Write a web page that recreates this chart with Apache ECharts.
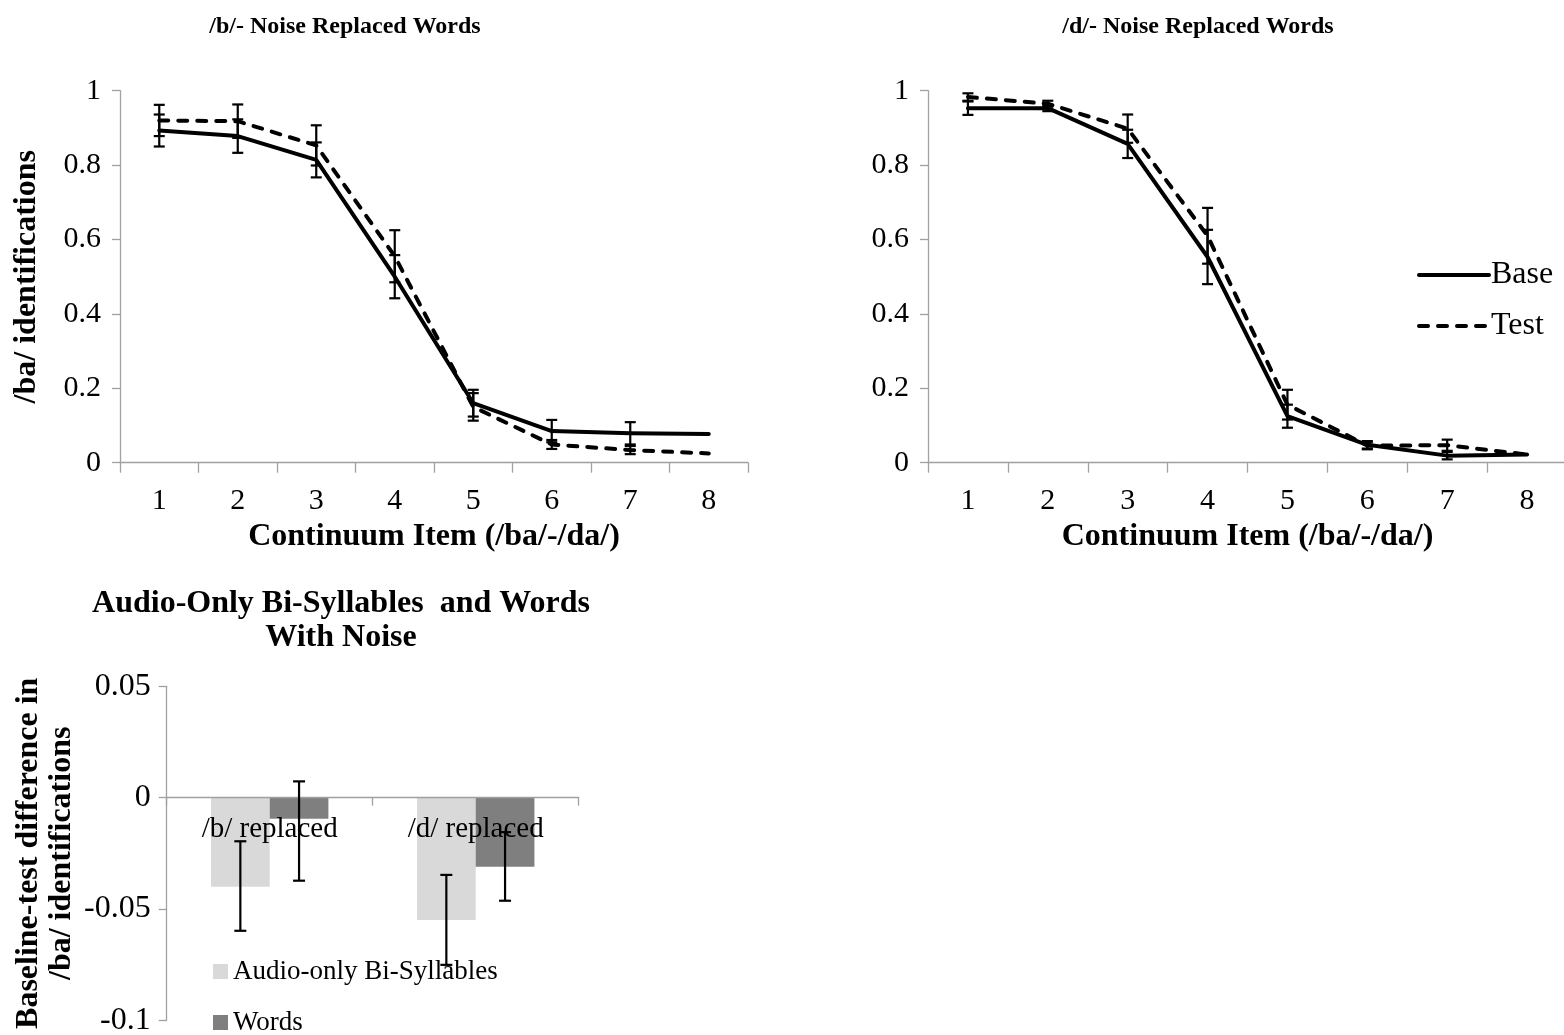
<!DOCTYPE html>
<html>
<head>
<meta charset="utf-8">
<script src="https://cdn.jsdelivr.net/npm/echarts@6/dist/echarts.min.js"></script>
<style>
  html, body { margin: 0; padding: 0; background: #fff; }
  #chart { width: 1564px; height: 1035px; }
</style>
</head>
<body>
<div id="chart"></div>
<script>
// Continuum items (/ba/ to /da/)
const continuumItems = ['1', '2', '3', '4', '5', '6', '7', '8'];

// /b/- noise replaced words: proportion of /ba/ identifications
const bBase    = [0.893, 0.878, 0.814, 0.500, 0.160, 0.085, 0.079, 0.077];
const bTest    = [0.920, 0.918, 0.853, 0.555, 0.150, 0.049, 0.034, 0.025];
const bBaseErr = [0.043, 0.045, 0.047, 0.058, 0.036, 0.030, 0.030, 0];
const bTestErr = [0.042, 0.045, 0.054, 0.070, 0.037, 0.012, 0.011, 0];

// /d/- noise replaced words
const dBase    = [0.953, 0.953, 0.857, 0.553, 0.125, 0.048, 0.019, 0.022];
const dTest    = [0.983, 0.965, 0.898, 0.610, 0.156, 0.046, 0.047, 0.022];
const dBaseErr = [0.018, 0.008, 0.038, 0.073, 0.031, 0.010, 0.010, 0];
const dTestErr = [0.010, 0.008, 0.038, 0.075, 0.040, 0.010, 0.015, 0];

// Baseline-test difference, audio-only bi-syllables vs words
const diffCategories = ['/b/ replaced', '/d/ replaced'];
const syllableDiff   = [-0.040, -0.055];
const wordDiff       = [-0.0095, -0.031];
const syllableLow    = [-0.0598, -0.0751];
const syllableHigh   = [-0.0196, -0.0347];
const wordLow        = [-0.0373, -0.0463];
const wordHigh       = [0.0073, -0.0155];

const FONT = 'Liberation Serif';
const AXIS_GREY = '#a0a0a0';

function numLabel(v) {
  if (Math.abs(v) < 1e-9) return '0';
  return String(parseFloat(v.toFixed(2)));
}

// [index, low, high, slot] rows for the error-bar series
function errRows(vals, errs, slot) {
  return vals.map((v, i) => [i, v - errs[i], v + errs[i], slot]);
}
function boundRows(low, high, slot) {
  return low.map((l, i) => [i, l, high[i], slot]);
}

// Vertical whisker with caps; slot shifts it onto one of two side-by-side bars
function renderErr(capHalf, groupFrac) {
  return function (params, api) {
    const lo = api.value(1), hi = api.value(2);
    if (!(hi - lo > 1e-9)) return null;
    const idx = api.value(0), slot = api.value(3);
    const top = api.coord([idx, hi]);
    const bot = api.coord([idx, lo]);
    let x = top[0];
    if (slot !== 0) {
      const band = api.size([1, 0])[0];
      x += slot * band * groupFrac / 4;
    }
    const style = { stroke: '#000', lineWidth: 2.2, fill: null };
    return {
      type: 'group',
      children: [
        { type: 'line', shape: { x1: x, y1: top[1], x2: x, y2: bot[1] }, style },
        { type: 'line', shape: { x1: x - capHalf, y1: top[1], x2: x + capHalf, y2: top[1] }, style },
        { type: 'line', shape: { x1: x - capHalf, y1: bot[1], x2: x + capHalf, y2: bot[1] }, style }
      ]
    };
  };
}

function lineXAxis(gridIndex) {
  return {
    type: 'category', gridIndex, data: continuumItems, boundaryGap: true,
    name: 'Continuum Item (/ba/-/da/)', nameLocation: 'middle', nameGap: 58,
    nameTextStyle: { fontFamily: FONT, fontSize: 32, fontWeight: 'bold', color: '#000' },
    axisLine: { lineStyle: { color: AXIS_GREY, width: 1.3 } },
    axisTick: { show: true, length: 10, inside: false, alignWithLabel: false, lineStyle: { color: AXIS_GREY, width: 1.3 } },
    axisLabel: { fontFamily: FONT, fontSize: 30, color: '#000', margin: 23 },
    splitLine: { show: false }
  };
}
function lineYAxis(gridIndex, withName) {
  const ax = {
    type: 'value', gridIndex, min: 0, max: 1, interval: 0.2,
    axisLine: { show: true, lineStyle: { color: AXIS_GREY, width: 1.3 } },
    axisTick: { show: true, length: 8, lineStyle: { color: AXIS_GREY, width: 1.3 } },
    axisLabel: { fontFamily: FONT, fontSize: 30, color: '#000', margin: 19, formatter: numLabel },
    splitLine: { show: false }
  };
  if (withName) {
    ax.name = '/ba/ identifications';
    ax.nameLocation = 'middle';
    ax.nameGap = 77;
    ax.nameTextStyle = { fontFamily: FONT, fontSize: 32, fontWeight: 'bold', color: '#000' };
  }
  return ax;
}
function curve(name, data, idx, dashed) {
  return {
    name, type: 'line', xAxisIndex: idx, yAxisIndex: idx, data,
    symbol: 'none', smooth: false, z: 3,
    lineStyle: { color: '#000', width: 4, type: dashed ? [9, 10] : 'solid', cap: 'round', join: 'round' },
    itemStyle: { color: '#000' }
  };
}
function whiskers(rows, idx) {
  return {
    type: 'custom', xAxisIndex: idx, yAxisIndex: idx, data: rows, z: 4,
    renderItem: renderErr(5.5, 0), encode: { x: 0, y: [1, 2] }, silent: true
  };
}
function barLegend(name, top) {
  return {
    data: [name], orient: 'vertical', left: 213, top,
    icon: 'rect', itemWidth: 15, itemHeight: 15, padding: 0,
    textStyle: { fontFamily: FONT, fontSize: 27, color: '#000', lineHeight: 27 }
  };
}

const BAR_GROUP = 0.57; // share of each category band taken by the pair of bars
const DIFF_GRID = { left: 166.7, top: 686.3, width: 412, height: 334 };
// the category axis sits on the zero line: 0 is one third of the way down from 0.05 to -0.1
const ZERO_OFFSET = -DIFF_GRID.height * (0.1 / 0.15);

const option = {
  backgroundColor: '#fff',
  animation: false,
  title: [
    { text: '/b/- Noise Replaced Words', left: 340, top: 10, textAlign: 'center',
      textStyle: { fontFamily: FONT, fontSize: 24, fontWeight: 'bold', color: '#000' } },
    { text: '/d/- Noise Replaced Words', left: 1193, top: 10, textAlign: 'center',
      textStyle: { fontFamily: FONT, fontSize: 24, fontWeight: 'bold', color: '#000' } },
    { text: 'Audio-Only Bi-Syllables  and Words\nWith Noise', left: 336, top: 582, textAlign: 'center',
      textStyle: { fontFamily: FONT, fontSize: 32, fontWeight: 'bold', color: '#000', lineHeight: 34, align: 'center' } }
  ],
  legend: [
    {
      data: ['Base', 'Test'], orient: 'vertical', left: 1417, top: 259,
      itemWidth: 70, itemHeight: 14, itemGap: 19, padding: 0,
      itemStyle: { color: 'rgba(0,0,0,0)', borderWidth: 0 },
      lineStyle: { width: 4, color: '#000' },
      textStyle: { fontFamily: FONT, fontSize: 32, color: '#000', lineHeight: 32, padding: [0, 0, 0, -3] }
    },
    barLegend('Audio-only Bi-Syllables', 958),
    barLegend('Words', 1009)
  ],
  grid: [
    { left: 120, top: 90.7, width: 628, height: 372, containLabel: false, outerBoundsMode: 'none' },
    { left: 928, top: 90.7, width: 639, height: 372, containLabel: false, outerBoundsMode: 'none' },
    Object.assign({ containLabel: false, outerBoundsMode: 'none' }, DIFF_GRID)
  ],
  xAxis: [
    lineXAxis(0),
    lineXAxis(1),
    {
      type: 'category', gridIndex: 2, data: diffCategories, boundaryGap: true, z: 5,
      position: 'bottom', offset: ZERO_OFFSET,
      axisLine: { onZero: false, lineStyle: { color: AXIS_GREY, width: 1.3 } },
      axisTick: { show: true, length: 8, alignWithLabel: false, lineStyle: { color: AXIS_GREY, width: 1.3 } },
      axisLabel: { fontFamily: FONT, fontSize: 29, color: '#000', margin: 17 },
      splitLine: { show: false }
    }
  ],
  yAxis: [
    lineYAxis(0, true),
    lineYAxis(1, false),
    {
      type: 'value', gridIndex: 2, min: -0.1, max: 0.05, interval: 0.05,
      name: 'Baseline-test difference in\n/ba/ identifications',
      nameLocation: 'middle', nameGap: 88,
      nameTextStyle: { fontFamily: FONT, fontSize: 32, fontWeight: 'bold', color: '#000', lineHeight: 33, align: 'center' },
      axisLine: { show: true, lineStyle: { color: AXIS_GREY, width: 1.3 } },
      axisTick: { show: true, length: 8, lineStyle: { color: AXIS_GREY, width: 1.3 } },
      axisLabel: { fontFamily: FONT, fontSize: 32, color: '#000', margin: 16, formatter: numLabel },
      splitLine: { show: false }
    }
  ],
  series: [
    curve('Base', bBase, 0, false),
    curve('Test', bTest, 0, true),
    whiskers(errRows(bBase, bBaseErr, 0), 0),
    whiskers(errRows(bTest, bTestErr, 0), 0),

    curve('Base', dBase, 1, false),
    curve('Test', dTest, 1, true),
    whiskers(errRows(dBase, dBaseErr, 0), 1),
    whiskers(errRows(dTest, dTestErr, 0), 1),

    {
      name: 'Audio-only Bi-Syllables', type: 'bar', xAxisIndex: 2, yAxisIndex: 2,
      data: syllableDiff, barGap: '0%', barCategoryGap: '43%', z: 2,
      itemStyle: { color: '#d9d9d9' }
    },
    {
      name: 'Words', type: 'bar', xAxisIndex: 2, yAxisIndex: 2,
      data: wordDiff, barGap: '0%', barCategoryGap: '43%', z: 2,
      itemStyle: { color: '#7f7f7f' }
    },
    {
      type: 'custom', xAxisIndex: 2, yAxisIndex: 2, z: 6, silent: true,
      data: boundRows(syllableLow, syllableHigh, -1),
      renderItem: renderErr(6, BAR_GROUP), encode: { x: 0, y: [1, 2] }
    },
    {
      type: 'custom', xAxisIndex: 2, yAxisIndex: 2, z: 6, silent: true,
      data: boundRows(wordLow, wordHigh, 1),
      renderItem: renderErr(6, BAR_GROUP), encode: { x: 0, y: [1, 2] }
    }
  ]
};

const chart = echarts.init(document.getElementById('chart'), null, { renderer: 'canvas' });
chart.setOption(option);
</script>
</body>
</html>
